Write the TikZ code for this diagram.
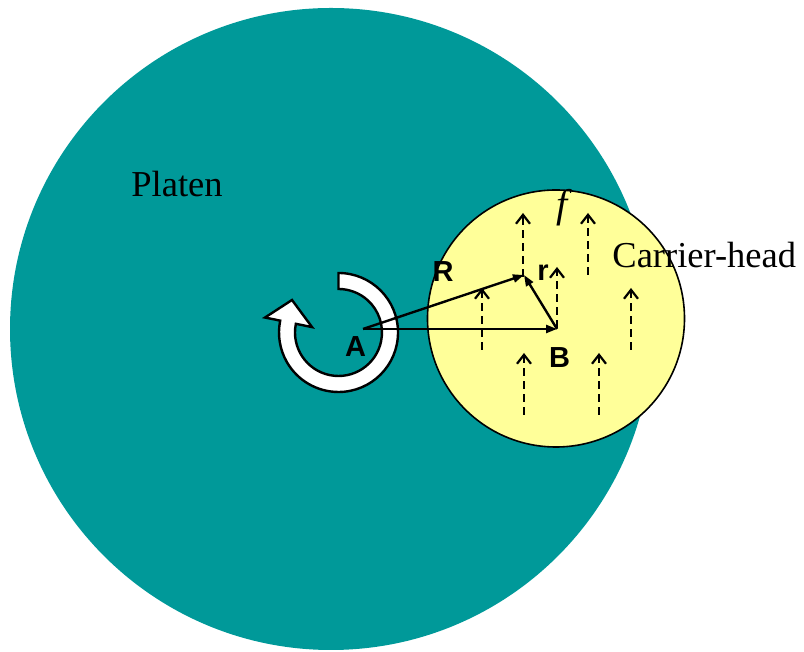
\documentclass[tikz,border=0pt]{standalone}
\usepackage{fontspec}
\setmainfont{Liberation Serif}
\setsansfont{Liberation Sans}
\usepackage{xcolor}
\usepackage{tikz}
\usetikzlibrary{arrows.meta,calc}
\definecolor{platenteal}{RGB}{0,153,153}
\definecolor{headyellow}{RGB}{255,255,153}

\begin{document}
\begin{tikzpicture}[x=0.5pt, y=0.5pt,
    serif label/.style={font=\fontsize{18.25}{20}\selectfont, inner sep=0pt},
    vec label/.style={font=\fontsize{14.5}{16}\sffamily\bfseries, inner sep=0pt},
    vector/.style={line width=1.2pt, -{Triangle[length=5.5pt, width=4pt]}},
    force/.style={line width=1.1pt, dash pattern=on 4pt off 2.5pt, -{Straight Barb[length=4.5pt, width=7pt]}}]
    \useasboundingbox (0, 0) rectangle (804, 652);

    % Platen and carrier head
    \fill[platenteal] (331, 323) circle[radius=321];
    \filldraw[fill=headyellow, draw=black, line width=0.8pt] (556, 333.5) circle[radius=128.5];

    \node[serif label, anchor=base west] (platenlbl) at (131, 455) {Platen};
    \node[serif label, anchor=base west] (headlbl) at (612, 384) {Carrier-head};
    \node[serif label, font=\fontsize{20}{22}\selectfont] (labf) at (564, 444) {\textit{f}};

    % Friction arrows on the carrier head
    \foreach \x/\ya/\yb [count=\i] in {523/375/439, 588/377/439, 557/324/385,
        482/302/364, 631/302/364, 524/237/299, 599/237/299} {
        \coordinate (f\i a) at (\x, \ya);
        \coordinate (f\i b) at (\x, \yb);
        \draw[force] (f\i a) -- (f\i b);
    }

    % Rotation of the platen
    \begin{scope}[shift={(338.5, 319.5)}]
        \filldraw[fill=white, draw=black, line width=1.2pt, line join=miter]
            (90:59.5) arc[start angle=90, end angle=-191.5, radius=59.5]
            -- (168.5:75) -- (-46.5, 32.5) -- (168.5:27) -- (168.5:43.5)
            arc[start angle=-191.5, end angle=90, radius=43.5] -- cycle;
    \end{scope}

    % Position vectors
    \coordinate (A) at (363, 323);
    \coordinate (B) at (557, 323);
    \coordinate (P) at (524, 377);
    \draw[vector] (A) -- (B);
    \draw[vector] (A) -- (P);
    \draw[vector] (B) -- (P);

    \node[vec label] (labA) at (355.5, 305.5) {A};
    \node[vec label] (labB) at (559.5, 294.5) {B};
    \node[vec label] (labR) at (443, 380.5) {R};
    \node[vec label, anchor=base] (labr) at (543, 371) {r};
\end{tikzpicture}
\end{document}
